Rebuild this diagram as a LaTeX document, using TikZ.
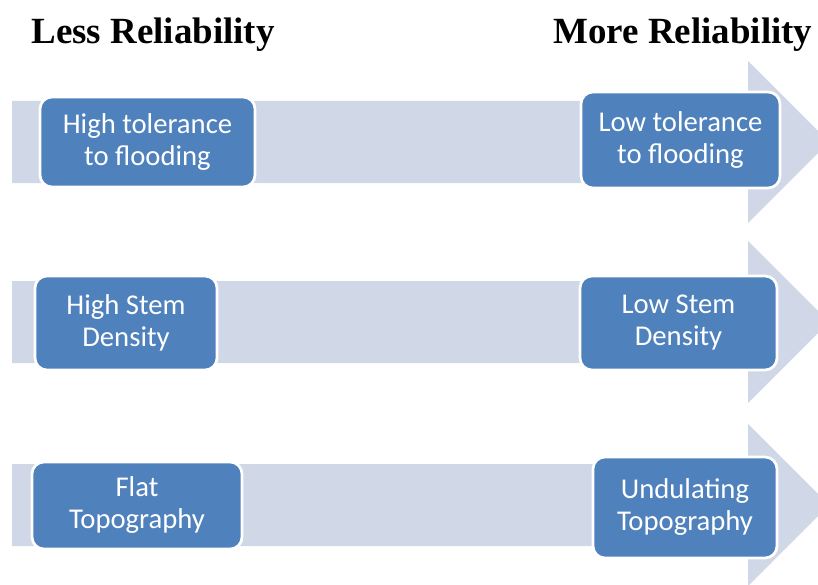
\documentclass[tikz,border=0pt]{standalone}
\usepackage{fontspec}
\setmainfont{Liberation Serif}
\newfontfamily\boxfont{Carlito}
\usetikzlibrary{positioning}
\definecolor{barblue}{HTML}{D0D8E8}
\definecolor{boxblue}{HTML}{4F81BD}
\tikzset{
  trait/.style={rectangle,rounded corners=9pt,draw=white,line width=2pt,
    fill=boxblue,text=white,align=center,inner sep=0pt,
    font=\boxfont\fontsize{21.5}{24}\selectfont},
  boxsize/.style 2 args={minimum width=#1*0.75pt,minimum height=#2*0.75pt},
  heading/.style={font=\bfseries\fontsize{27.7}{30}\selectfont}
}

\begin{document}
\begin{tikzpicture}[x=0.75pt,y=-0.75pt]
\useasboundingbox (0,0) rectangle (818,585);
\clip (0,0) rectangle (818,585);
% \draw[help lines,step=50] (0,0) grid (818,585);
% the three wide arrows behind the boxes
\foreach \c in {142,322,505}{
  \fill[barblue] (12,\c-41) -- (748,\c-41) -- (748,\c-81) -- (829,\c)
    -- (748,\c+81) -- (748,\c+41) -- (12,\c+41) -- cycle;
}
%
\node (less) [heading] at (153,35) {Less Reliability};
\node (more) [heading] at (683,35) {More Reliability};
%
\node (tolhigh) [trait,boxsize={215}{90}] at (147.5,142) {High tolerance\\to flooding};
\node (tollow)  [trait,boxsize={199}{96}] at (680.5,140) {Low tolerance\\to flooding};
\node (stemhigh) [trait,boxsize={182}{94}] at (126,323) {High Stem\\Density};
\node (stemlow)  [trait,boxsize={197}{94}] at (678.5,323) {Low Stem\\Density};
\node (topoflat) [trait,boxsize={210}{87}] at (137,505.5) {Flat\\Topography};
\node (topoundul) [trait,boxsize={184}{101}] at (685,507.5) {Undulating\\Topography};
\end{tikzpicture}
\end{document}
